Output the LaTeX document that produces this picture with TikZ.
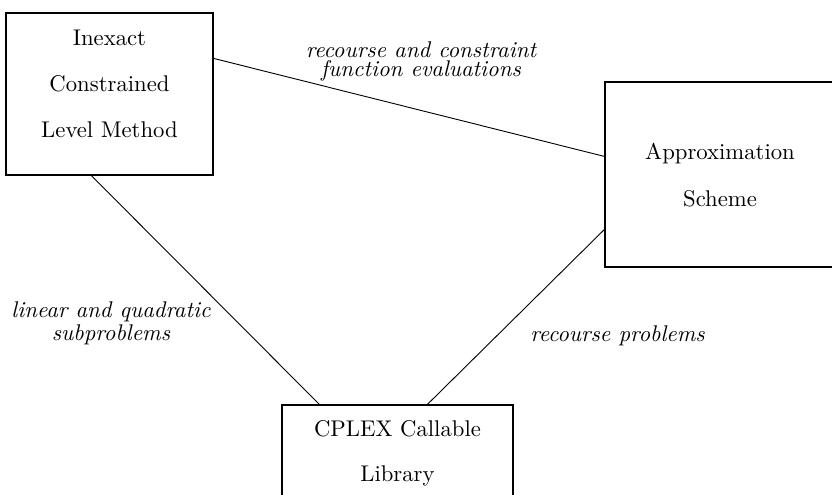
\documentclass[tikz,border=0pt]{standalone}
\usetikzlibrary{calc}
\begin{document}
\begin{tikzpicture}[x=0.4405pt,y=-0.4405pt,
  box/.style={draw, line width=0.5pt, inner sep=0pt},
  boxtext/.style={align=center, anchor=base, inner sep=0pt},
  lbl/.style={align=center, anchor=base, inner sep=0pt, font=\itshape},
  link/.style={line width=0.4pt}]
\useasboundingbox (0,0) rectangle (832,494);
\clip (0,0) rectangle (832,494);
% boxes
\node[box, minimum width=91.2pt, minimum height=71.4pt] (A) at (109.5,94) {};
\node[box, minimum width=101.3pt, minimum height=81.5pt] (B) at (720,174.5) {};
\node[box, minimum width=101.8pt, minimum height=74.9pt] (C) at (397.5,490) {};
% box texts (anchor=base is the baseline of the last line)
\node[boxtext] (At) at (109.5,137.3) {Inexact\\[8.3pt]Constrained\\[8.3pt]Level Method};
\node[boxtext] (Bt) at (720,206) {Approximation\\[8.7pt]Scheme};
\node[boxtext] (Ct) at (397.5,481.7) {CPLEX Callable\\[7.8pt]Library};
% connectors
\coordinate (a1) at ($(A.north east)+(0,46)$);
\coordinate (b1) at ($(B.north west)+(0,75)$);
\coordinate (a2) at ($(A.south west)+(86,0)$);
\coordinate (c1) at ($(C.north west)+(38,0)$);
\coordinate (b2) at ($(B.north west)+(0,148)$);
\coordinate (c2) at ($(C.north west)+(146,0)$);
\draw[link] (a1) -- (b1);
\draw[link] (a2) -- (c1);
\draw[link] (b2) -- (c2);
% labels
\node[lbl] (l1) at (421,76.7) {recourse and constraint\\[-3.5pt]function evaluations};
\node[lbl] (l2) at (111,340.7) {linear and quadratic\\[-1.6pt]subproblems};
\node[lbl] (l3) at (617.5,341.7) {recourse problems};
\end{tikzpicture}
\end{document}
